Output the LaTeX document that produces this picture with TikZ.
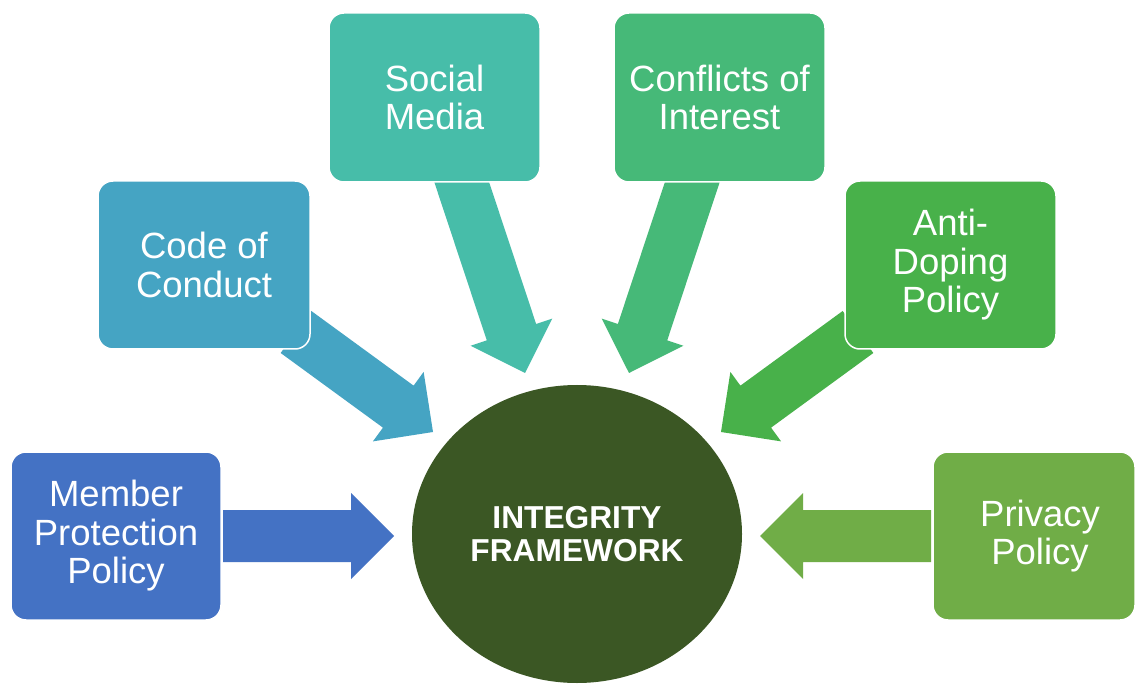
\documentclass[tikz,border=0pt]{standalone}
\usepackage{fontspec}
\setmainfont{Liberation Sans}
\usetikzlibrary{calc,shapes.geometric}
\definecolor{cMember}{HTML}{4472C4}
\definecolor{cCode}{HTML}{45A4C3}
\definecolor{cSocial}{HTML}{47BDA9}
\definecolor{cConf}{HTML}{46B978}
\definecolor{cAnti}{HTML}{48B14A}
\definecolor{cPriv}{HTML}{70AD47}
\definecolor{cCore}{HTML}{3B5724}
% block arrow from tail #1 to tip #2, colour #3
\newcommand\blockarrow[3]{%
  \coordinate (hb) at ($(#2)!43pt!(#1)$);
  \fill[#3] ($(#1)!26pt!90:(#2)$) -- ($(hb)!26pt!-90:(#1)$) -- ($(hb)!43pt!-90:(#1)$)
    -- (#2) -- ($(hb)!43pt!90:(#1)$) -- ($(hb)!26pt!90:(#1)$) -- ($(#1)!26pt!-90:(#2)$) -- cycle;
}
\begin{document}
\begin{tikzpicture}[x=1pt,y=-1pt,
  boxstyle/.style={draw=white, line width=1.5pt, rounded corners=15pt, inner sep=0pt,
    align=center, text=white, font=\fontsize{36.5}{38.5}\selectfont},
  corestyle/.style={ellipse, inner sep=0pt, fill=cCore, text=white, align=center,
    font=\fontsize{31.7}{33}\selectfont\bfseries}
]
\useasboundingbox (0,0) rectangle (1135,684);
\fill[white] (0,0) rectangle (1135,684);

% arrow end points
\coordinate (tMember) at (223,536);  \coordinate (pMember) at (394,536);
\coordinate (tCode)   at (296,332);  \coordinate (pCode)   at (433,432);
\coordinate (tSocial) at (459,174);  \coordinate (pSocial) at (525,373);
\coordinate (tConf)   at (695,174);  \coordinate (pConf)   at (629,373);
\coordinate (tAnti)   at (858,332);  \coordinate (pAnti)   at (721,432);
\coordinate (tPriv)   at (931,536);  \coordinate (pPriv)   at (760,536);

\blockarrow{tMember}{pMember}{cMember}
\blockarrow{tCode}{pCode}{cCode}
\blockarrow{tSocial}{pSocial}{cSocial}
\blockarrow{tConf}{pConf}{cConf}
\blockarrow{tAnti}{pAnti}{cAnti}
\blockarrow{tPriv}{pPriv}{cPriv}

% boxes
\node[boxstyle, fill=cMember, minimum width=210pt, minimum height=168pt] (member) at (116,536) {Member\\Protection\\Policy};
\node[boxstyle, fill=cCode, minimum width=212pt, minimum height=168pt] (code) at (204,265) {Code of\\Conduct};
\node[boxstyle, fill=cSocial, minimum width=211pt, minimum height=169pt] (social) at (434.5,97.5) {Social\\Media};
\node[boxstyle, fill=cConf, minimum width=211pt, minimum height=169pt] (conf) at (719.5,97.5) {Conflicts of\\Interest};
\node[boxstyle, fill=cAnti, minimum width=211pt, minimum height=168pt] (anti) at (950.5,265) {Anti-\\Doping\\Policy};
\node[boxstyle, fill=cPriv, minimum width=202pt, minimum height=168pt,
  label={[xshift=6pt, text=white, align=center, font=\fontsize{36.5}{38.5}\selectfont]center:{Privacy\\Policy}}] (priv) at (1034,536) {};

% centre
\node[corestyle, minimum width=330pt, minimum height=298pt] (core) at (577,534) {INTEGRITY\\FRAMEWORK};
\end{tikzpicture}
\end{document}
